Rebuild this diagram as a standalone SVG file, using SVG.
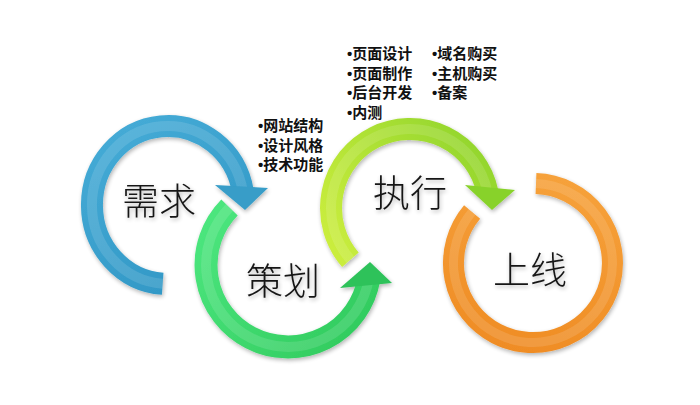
<svg xmlns="http://www.w3.org/2000/svg" width="700" height="405" viewBox="0 0 700 405">
<style>
.lbl{font-family:"Noto Sans CJK SC","Noto Sans",sans-serif;font-size:37px;font-weight:300;fill:#151515;text-anchor:middle}
.lst{font-family:"Liberation Sans","Noto Sans CJK SC",sans-serif;font-size:15px;font-weight:bold;fill:#111}
.ring{fill:none;stroke-linecap:butt}
.hl{fill:none;stroke:#ffffff;stroke-opacity:.12;stroke-linecap:butt}
</style>
<defs>
<filter id="sh" x="-20%" y="-20%" width="140%" height="140%">
<feGaussianBlur in="SourceAlpha" stdDeviation="2"/>
<feOffset dx="1" dy="2" result="o"/>
<feComponentTransfer><feFuncA type="linear" slope="0.3"/></feComponentTransfer>
<feMerge><feMergeNode/><feMergeNode in="SourceGraphic"/></feMerge>
</filter>
<linearGradient id="gB" gradientUnits="userSpaceOnUse" x1="100" y1="120" x2="200" y2="290">
<stop offset="0" stop-color="#46acd7"/><stop offset="1" stop-color="#3197c5"/>
</linearGradient>
<linearGradient id="gG" gradientUnits="userSpaceOnUse" x1="210" y1="210" x2="370" y2="340">
<stop offset="0" stop-color="#4ce67e"/><stop offset="1" stop-color="#30ca5d"/>
</linearGradient>
<linearGradient id="gY" gradientUnits="userSpaceOnUse" x1="340" y1="260" x2="500" y2="150">
<stop offset="0" stop-color="#caed3d"/><stop offset="1" stop-color="#8fd42c"/>
</linearGradient>
<linearGradient id="gO" gradientUnits="userSpaceOnUse" x1="540" y1="175" x2="500" y2="350">
<stop offset="0" stop-color="#f6a13a"/><stop offset="1" stop-color="#ef8c24"/>
</linearGradient>
</defs>
<rect width="700" height="405" fill="#ffffff"/>

<g id="node-xuqiu" filter="url(#sh)">
<path class="ring" d="M162.7,283.8 A76,79 0 1 1 242.8,191.3" stroke="url(#gB)" stroke-width="22"/>
<path class="hl" d="M162.7,283.8 A76,79 0 1 1 242.8,191.3" stroke-width="10"/>
<polygon points="215,185 268,188 245,210" fill="#379dc8"/>
<text class="lbl" x="159" y="215">需求</text>
</g>

<g id="node-cehua" filter="url(#sh)">
<path class="ring" d="M229.5,207.5 A82,82 0 1 0 368.8,279.2" stroke="url(#gG)" stroke-width="23"/>
<path class="hl" d="M229.5,207.5 A82,82 0 1 0 368.8,279.2" stroke-width="10"/>
<polygon points="340,288 392,283 370,262" fill="#2ec25a"/>
<text class="lbl" x="283" y="295">策划</text>
</g>

<g id="node-zhixing" filter="url(#sh)">
<path class="ring" d="M350.4,259.8 A79,79 0 1 1 487.3,191.6" stroke="url(#gY)" stroke-width="22"/>
<path class="hl" d="M350.4,259.8 A79,79 0 1 1 487.3,191.6" stroke-width="10"/>
<polygon points="465,185 515,190 492,210" fill="#88d22b"/>
<text class="lbl" x="410" y="207">执行</text>
</g>

<g id="node-shangxian" filter="url(#sh)">
<path class="ring" d="M536,183.6 A79.5,79.5 0 1 1 472.1,211.9" stroke="url(#gO)" stroke-width="21"/>
<path class="hl" d="M536,183.6 A79.5,79.5 0 1 1 472.1,211.9" stroke-width="9"/>
<text class="lbl" x="530" y="284">上线</text>
</g>

<g id="list-cehua">
<text class="lst" x="258" y="131">•网站结构</text>
<text class="lst" x="258" y="150.5">•设计风格</text>
<text class="lst" x="258" y="170">•技术功能</text>
</g>

<g id="list-zhixing-1">
<text class="lst" x="347" y="59">•页面设计</text>
<text class="lst" x="347" y="78.5">•页面制作</text>
<text class="lst" x="347" y="98">•后台开发</text>
<text class="lst" x="347" y="117.5">•内测</text>
</g>

<g id="list-zhixing-2">
<text class="lst" x="432" y="59">•域名购买</text>
<text class="lst" x="432" y="78.5">•主机购买</text>
<text class="lst" x="432" y="98">•备案</text>
</g>

<g id="connectors"/>
</svg>
